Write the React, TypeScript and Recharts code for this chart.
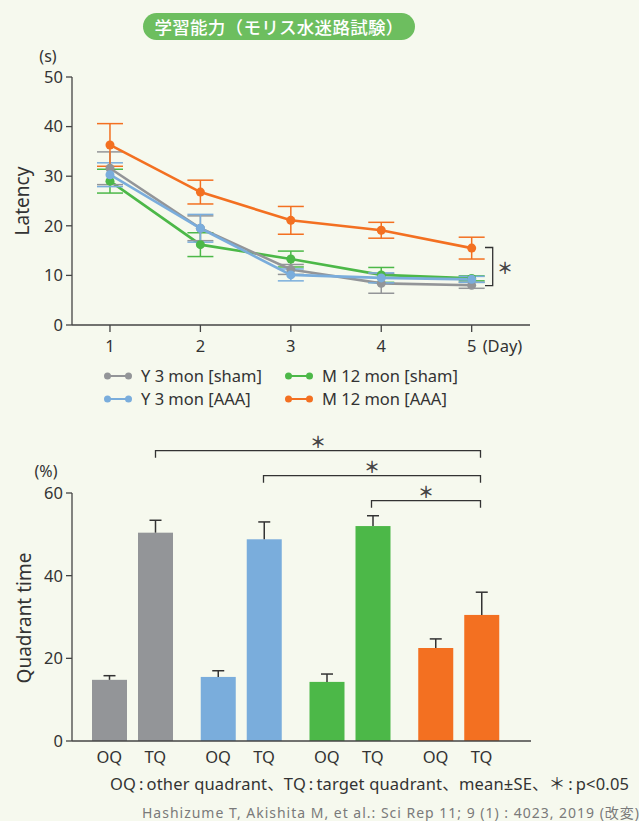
import React from 'react'
import { LineChart, Line, BarChart, Bar, XAxis, YAxis, ErrorBar } from 'recharts'

// Morris water maze: escape latency by day (s)
const days = [1, 2, 3, 4, 5]
const yShamLatency = [31.6, 19.5, 11.2, 8.4, 8.0]
const yShamLatencyErr = [3.3, 2.5, 1.0, 2.0, 0.6]
const yAaaLatency = [30.3, 19.5, 10.1, 9.5, 9.2]
const yAaaLatencyErr = [2.4, 2.8, 1.2, 1.0, 0.6]
const mShamLatency = [29.0, 16.2, 13.3, 10.1, 9.4]
const mShamLatencyErr = [2.4, 2.4, 1.6, 1.5, 0.5]
const mAaaLatency = [36.3, 26.8, 21.1, 19.1, 15.5]
const mAaaLatencyErr = [4.3, 2.4, 2.8, 1.6, 2.2]
const latencyTicks = [0, 10, 20, 30, 40, 50]

// Probe test: quadrant time (%)
const groups = ['Y 3 mon [sham]', 'Y 3 mon [AAA]', 'M 12 mon [sham]', 'M 12 mon [AAA]']
const oqTime = [14.8, 15.5, 14.3, 22.5]
const oqTimeErr = [1.0, 1.5, 1.9, 2.2]
const tqTime = [50.4, 48.8, 52.0, 30.5]
const tqTimeErr = [3.0, 4.2, 2.5, 5.5]
const quadrantTicks = [0, 20, 40, 60]

const FONT = '"Noto Sans", "Noto Sans CJK JP", sans-serif'
const BG = '#f6f9ee'
const TEXT = '#333333'
const GRAY = '#939598'
const BLUE = '#7aaddc'
const GREEN = '#4cb848'
const ORANGE = '#f37021'
const groupColors = [GRAY, BLUE, GREEN, ORANGE]

const lineSeries = [
  { key: 'mSham', name: 'M 12 mon [sham]', color: GREEN },
  { key: 'ySham', name: 'Y 3 mon [sham]', color: GRAY },
  { key: 'yAaa', name: 'Y 3 mon [AAA]', color: BLUE },
  { key: 'mAaa', name: 'M 12 mon [AAA]', color: ORANGE },
]

const lineData = days.map((d, i) => ({
  day: d,
  ySham: yShamLatency[i],
  yShamErr: yShamLatencyErr[i],
  yAaa: yAaaLatency[i],
  yAaaErr: yAaaLatencyErr[i],
  mSham: mShamLatency[i],
  mShamErr: mShamLatencyErr[i],
  mAaa: mAaaLatency[i],
  mAaaErr: mAaaLatencyErr[i],
}))

const barData = groups.map((g, i) => ({
  group: g,
  oq: oqTime[i],
  oqErr: oqTimeErr[i],
  tq: tqTime[i],
  tqErr: tqTimeErr[i],
}))

const tickStyle = { fontSize: 16.5, fill: TEXT, fontFamily: FONT }

const DayTick = ({ x, y, payload }: any) => (
  <g>
    <text x={x} y={y + 18} textAnchor="middle" style={tickStyle}>{payload.value}</text>
    {payload.value === 5 && (
      <text x={x + 11} y={y + 18} textAnchor="start" style={tickStyle}>(Day)</text>
    )}
  </g>
)

const QuadrantTick = ({ x, y }: any) => (
  <g>
    <text x={x - 23} y={y + 14} textAnchor="middle" style={tickStyle}>OQ</text>
    <text x={x + 23} y={y + 14} textAnchor="middle" style={tickStyle}>TQ</text>
  </g>
)

// bar + upper-only SE whisker
const barWithErr = (valueKey: string, errKey: string) => (props: any) => {
  const { x, y, width, height, index, payload } = props
  const v = payload[valueKey]
  const errPx = v ? (payload[errKey] * height) / v : 0
  const cx = x + width / 2
  return (
    <g>
      <rect x={x} y={y} width={width} height={height} fill={groupColors[index]} />
      <line x1={cx} y1={y} x2={cx} y2={y - errPx} stroke="#333" strokeWidth={1.5} />
      <line x1={cx - 6} y1={y - errPx} x2={cx + 6} y2={y - errPx} stroke="#333" strokeWidth={1.5} />
    </g>
  )
}

const LegendItem = ({ color, label }: { color: string; label: string }) => (
  <div style={{ display: 'flex', alignItems: 'center', height: 23 }}>
    <svg width={37} height={10}>
      <line x1={3} y1={5} x2={25} y2={5} stroke={color} strokeWidth={2} />
      <circle cx={3.5} cy={5} r={3.5} fill={color} />
      <circle cx={24.5} cy={5} r={3.5} fill={color} />
    </svg>
    <span style={{ fontSize: 16.5, color: TEXT }}>{label}</span>
  </div>
)

const starStyle = { fontSize: 16, fill: '#444', fontFamily: '"Noto Sans CJK JP", sans-serif', fontWeight: 700 }

const Sig = ({ x1, x2, y, drop }: { x1: number; x2: number; y: number; drop: number }) => (
  <g>
    <polyline
      points={`${x1},${y + drop} ${x1},${y} ${x2},${y} ${x2},${y + drop}`}
      fill="none"
      stroke="#333"
      strokeWidth={1.3}
    />
    <text x={(x1 + x2) / 2} y={y - 3} textAnchor="middle" style={starStyle}>＊</text>
  </g>
)

export default function App() {
  return (
    <div style={{ position: 'absolute', left: 0, top: 0, width: 639, height: 821, background: BG, fontFamily: FONT, overflow: 'hidden' }}>
      {/* title pill */}
      <div
        style={{
          position: 'absolute', left: 143, top: 13, width: 272, height: 27, borderRadius: 14,
          background: '#6dbe5f', color: '#fff', fontSize: 17.5, fontWeight: 500, lineHeight: '27px', textAlign: 'center',
          fontFamily: '"Noto Sans CJK JP", sans-serif', letterSpacing: 0.3,
        }}
      >
        学習能力（モリス水迷路試験）
      </div>

      {/* latency chart */}
      <div style={{ position: 'absolute', left: 0, top: 0 }}>
        <LineChart width={639} height={360} data={lineData} margin={{ top: 77, right: 109, bottom: 5, left: 0 }}>
          <XAxis
            dataKey="day"
            type="number"
            domain={[0.58, 5.645]}
            ticks={days}
            tick={<DayTick />}
            tickSize={7}
            stroke="#444"
            strokeWidth={1.3}
            height={30}
            allowDataOverflow
          />
          <YAxis
            domain={[0, 50]}
            ticks={latencyTicks}
            tick={tickStyle}
            tickSize={6}
            tickMargin={3}
            stroke="#444"
            strokeWidth={1.3}
            width={72}
          />
          {lineSeries.map((s) => (
            <Line
              key={s.key}
              dataKey={s.key}
              stroke={s.color}
              strokeWidth={2.6}
              dot={{ r: 4.5, fill: s.color, stroke: s.color, strokeWidth: 0 }}
              activeDot={false}
              isAnimationActive={false}
            >
              <ErrorBar dataKey={`${s.key}Err`} width={13} stroke={s.color} strokeWidth={1.5} direction="y" isAnimationActive={false} />
            </Line>
          ))}
        </LineChart>
      </div>

      {/* legend */}
      <div style={{ position: 'absolute', left: 104, top: 364, display: 'flex' }}>
        <div style={{ width: 181 }}>
          <LegendItem color={GRAY} label="Y 3 mon [sham]" />
          <LegendItem color={BLUE} label="Y 3 mon [AAA]" />
        </div>
        <div>
          <LegendItem color={GREEN} label="M 12 mon [sham]" />
          <LegendItem color={ORANGE} label="M 12 mon [AAA]" />
        </div>
      </div>

      {/* quadrant time chart */}
      <div style={{ position: 'absolute', left: 0, top: 440 }}>
        <BarChart
          width={639}
          height={335}
          data={barData}
          margin={{ top: 53, right: 108, bottom: 4, left: 0 }}
          barSize={35}
          barGap={11}
        >
          <XAxis
            dataKey="group"
            tick={<QuadrantTick />}
            tickLine={false}
            stroke="#444"
            strokeWidth={1.3}
            height={30}
            padding={{ left: 6, right: 18 }}
            interval={0}
          />
          <YAxis
            domain={[0, 60]}
            ticks={quadrantTicks}
            tick={tickStyle}
            tickSize={6}
            tickMargin={3}
            stroke="#444"
            strokeWidth={1.3}
            width={72}
          />
          <Bar dataKey="oq" shape={barWithErr('oq', 'oqErr')} isAnimationActive={false} />
          <Bar dataKey="tq" shape={barWithErr('tq', 'tqErr')} isAnimationActive={false} />
        </BarChart>
      </div>

      {/* annotations */}
      <svg width={639} height={821} style={{ position: 'absolute', left: 0, top: 0, pointerEvents: 'none' }}>
        <text x={48} y={62} textAnchor="middle" style={{ fontSize: 16, fill: TEXT, fontFamily: FONT }}>(s)</text>
        <text transform="translate(29,201) rotate(-90)" textAnchor="middle" style={{ fontSize: 19, fill: TEXT, fontFamily: FONT }}>Latency</text>
        <polyline points="485,247.5 492.7,247.5 492.7,285.7 485,285.7" fill="none" stroke="#333" strokeWidth={1.3} />
        <text x={505} y={274} textAnchor="middle" style={starStyle}>＊</text>

        <text x={46} y={477} textAnchor="middle" style={{ fontSize: 16, fill: TEXT, fontFamily: FONT }}>(%)</text>
        <text transform="translate(31,618) rotate(-90)" textAnchor="middle" style={{ fontSize: 19, fill: TEXT, fontFamily: FONT }}>Quadrant time</text>
        <Sig x1={155.5} x2={480.5} y={450.7} drop={7} />
        <Sig x1={263.5} x2={480.5} y={475.7} drop={7} />
        <Sig x1={371.5} x2={480.5} y={500.7} drop={7} />

        <text x={110} y={790} textLength={519} lengthAdjust="spacing" style={{ fontSize: 16.5, fill: TEXT, fontFamily: FONT }}>
          {'OQ\u2009:\u2009other quadrant、TQ\u2009:\u2009target quadrant、mean±SE、＊\u2009:\u2009p<0.05'}
        </text>
        <text x={142} y={818} textLength={497} lengthAdjust="spacing" style={{ fontSize: 14, fill: '#7a7a7a', fontFamily: FONT }}>
          Hashizume T, Akishita M, et al.: Sci Rep 11; 9 (1) : 4023, 2019 (改変)
        </text>
      </svg>
    </div>
  )
}
